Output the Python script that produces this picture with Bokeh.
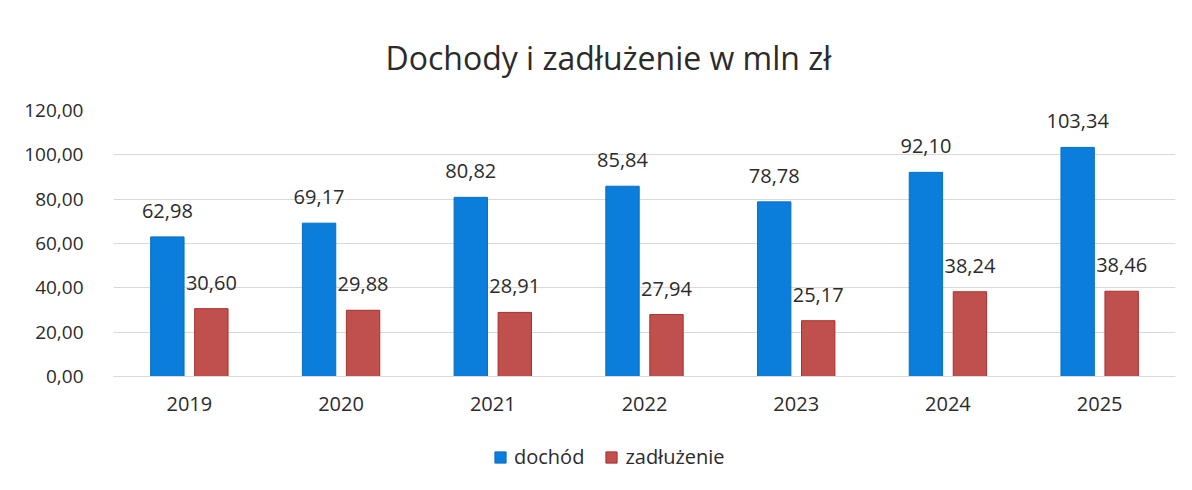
from bokeh.plotting import figure
from bokeh.layouts import column
from bokeh.models import FactorRange, Range1d, ColumnDataSource, Legend, LegendItem, FixedTicker
from bokeh.transform import dodge
from bokeh.core.properties import value
from bokeh.embed import file_html
from bokeh.resources import INLINE

years = ["2019", "2020", "2021", "2022", "2023", "2024", "2025"]
dochod = [62.98, 69.17, 80.82, 85.84, 78.78, 92.10, 103.34]
zadluzenie = [30.60, 29.88, 28.91, 27.94, 25.17, 38.24, 38.46]
y_ticks = [0, 20, 40, 60, 80, 100, 120]
y_tick_labels = ["0,00", "20,00", "40,00", "60,00", "80,00", "100,00", "120,00"]
series_names = ["dochód", "zadłużenie"]

FONT = "Open Sans"
TXT = "#2b2b2b"
BLUE = "#0B7DDA"
RED = "#C0504D"
BLUE_EDGE = "#0A6FC2"
RED_EDGE = "#A8302A"

def fmt(v):
    return f"{v:.2f}".replace(".", ",")

src = ColumnDataSource(dict(
    x=years,
    d=dochod,
    z=zadluzenie,
    dl=[fmt(v) for v in dochod],
    zl=[fmt(v) for v in zadluzenie],
))

p = figure(width=1176, height=440, output_backend="svg", toolbar_location=None,
           x_range=FactorRange(factors=years, range_padding=0),
           y_range=Range1d(0, 120),
           min_border_left=113, min_border_right=1,
           min_border_top=110, min_border_bottom=64)

p.title.text = "Dochody i zadłużenie w mln zł"
p.title.align = "left"
p.title.offset = 272
p.title.text_font = FONT
p.title.text_font_size = "32px"
p.title.text_font_style = "normal"
p.title.text_color = TXT
p.title.standoff = 64

off = 0.145
w = 0.22
p.vbar(x=dodge("x", -off, range=p.x_range), top="d", width=w, source=src,
       fill_color=BLUE, line_color=BLUE_EDGE, line_width=1)
p.vbar(x=dodge("x", off, range=p.x_range), top="z", width=w, source=src,
       fill_color=RED, line_color=RED_EDGE, line_width=1)

p.text(x=dodge("x", -off, range=p.x_range), y="d", text="dl", source=src,
       text_align="center", text_baseline="bottom", y_offset=-19,
       text_font=value(FONT), text_font_size="20px", text_color=TXT)
p.text(x=dodge("x", off, range=p.x_range), y="z", text="zl", source=src,
       text_align="center", text_baseline="bottom", y_offset=-19,
       text_font=value(FONT), text_font_size="20px", text_color=TXT)

p.outline_line_color = None
p.xgrid.grid_line_color = None
p.ygrid.grid_line_color = "#d9d9d9"
p.ygrid.grid_line_width = 1

p.yaxis.ticker = FixedTicker(ticks=y_ticks)
p.yaxis.major_label_overrides = {t: l for t, l in zip(y_ticks, y_tick_labels)}
p.yaxis.axis_line_color = None
p.yaxis.major_tick_line_color = None
p.yaxis.minor_tick_line_color = None
p.yaxis.major_label_standoff = 24
p.yaxis.major_label_text_font = FONT
p.yaxis.major_label_text_font_size = "19px"
p.yaxis.major_label_text_color = TXT

p.xaxis.axis_line_color = "#d9d9d9"
p.xaxis.major_tick_line_color = None
p.xaxis.minor_tick_line_color = None
p.xaxis.major_label_standoff = 14
p.xaxis.major_label_text_font = FONT
p.xaxis.major_label_text_font_size = "20px"
p.xaxis.major_label_text_color = TXT

# legend strip (its renderers sit far outside the visible range; only the legend shows)
q = figure(width=1176, height=34, output_backend="svg", toolbar_location=None,
           x_range=Range1d(0, 1), y_range=Range1d(0, 1),
           min_border_left=0, min_border_right=0, min_border_top=0, min_border_bottom=0)
q.axis.visible = False
q.grid.visible = False
q.outline_line_color = None
lb = q.vbar(x=[-50], top=[-50], bottom=[-51], width=0.1, fill_color=BLUE, line_color=BLUE_EDGE)
lr = q.vbar(x=[-50], top=[-50], bottom=[-51], width=0.1, fill_color=RED, line_color=RED_EDGE)
legend = Legend(items=[LegendItem(label=series_names[0], renderers=[lb]),
                       LegendItem(label=series_names[1], renderers=[lr])],
                orientation="horizontal", location=(380, 4),
                border_line_color=None, background_fill_alpha=0,
                padding=0, margin=0, spacing=20, label_standoff=7,
                glyph_width=14, glyph_height=14,
                label_text_font=FONT, label_text_font_size="20px",
                label_text_color=TXT)
q.add_layout(legend, "center")

open("out.html", "w").write(file_html(column(p, q), INLINE))
